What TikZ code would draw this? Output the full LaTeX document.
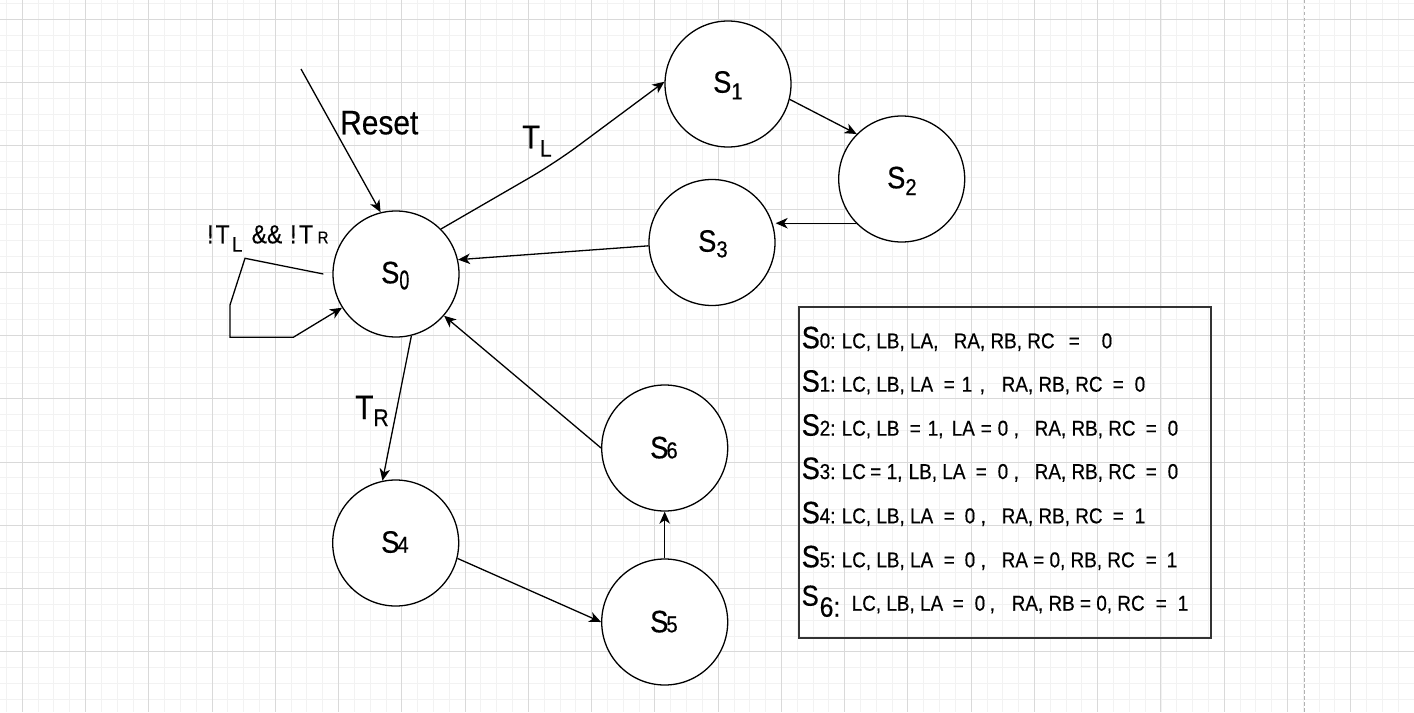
\documentclass[tikz,border=0pt]{standalone}
\usepackage{fontspec}
\setmainfont{Liberation Sans}[FakeStretch=0.88,FakeBold=0.4]
\usepackage{graphicx}
\usetikzlibrary{arrows.meta,calc}
\newcommand\fs[1]{\fontsize{#1bp}{#1bp}\selectfont}
\newcommand\seg[2]{\rlap{\hspace*{#1bp}#2}}
\begin{document}
\begin{tikzpicture}[x=1bp,y=-1bp,
  minorline/.style={draw=black!5,line width=1bp},
  majorline/.style={draw=black!15,line width=1bp},
  state/.style={draw,circle,fill=white,minimum size=126bp,inner sep=0pt,line width=1.3bp},
  arr/.style={line width=1.3bp,-{Stealth[length=12bp,width=10.5bp,inset=3.5bp]}},
  lab/.style={inner sep=0pt,anchor=base west},
  row/.style={inner sep=0pt,anchor=base west,font=\fs{21.5}}]
\useasboundingbox (0,0) rectangle (1414,712);
\fill[white] (0,0) rectangle (1414,712);
% grid
\foreach \i in {0,...,89} \draw[minorline] ({6.5+\i*15.815},0) -- ({6.5+\i*15.815},712);
\foreach \i in {0,...,45} \draw[minorline] (0,{3.5+\i*15.815}) -- (1414,{3.5+\i*15.815});
\foreach \i in {0,...,22} \draw[majorline] ({22.3+\i*63.26},0) -- ({22.3+\i*63.26},712);
\foreach \i in {0,...,11} \draw[majorline] (0,{19.3+\i*63.26}) -- (1414,{19.3+\i*63.26});
\draw[black!30,line width=1.2bp,dash pattern=on 3.5bp off 2.5bp] (1304.5,0) -- (1304.5,712);

% states
\node[state] (s0) at (396,274) {};
\node[state] (s1) at (728,84) {};
\node[state] (s2) at (901.7,179) {};
\node[state] (s3) at (712,242.5) {};
\node[state] (s4) at (395.7,543) {};
\node[state] (s5) at (664.7,622) {};
\node[state] (s6) at (664.7,448) {};

% state labels
\node[lab] (l0) at (381,283.3) {\fs{31}S\raisebox{-6bp}{\fs{27}\scalebox{0.75}[1]{0}}};
\node[lab] (l1) at (713,92.7) {\fs{31}S\raisebox{-6.6bp}{\fs{23}1}};
\node[lab] (l2) at (887,188.3) {\fs{31}S\raisebox{-6.7bp}{\fs{23}2}};
\node[lab] (l3) at (698,251.7) {\fs{31}S\raisebox{-5.6bp}{\fs{23}3}};
\node[lab] (l4) at (381,552.7) {\fs{31}S\kern-2bp\fs{23}4};
\node[lab] (l5) at (650,632.3) {\fs{31}S\kern-2bp\fs{23}5};
\node[lab] (l6) at (650,458.3) {\fs{31}S\kern-2bp\fs{23}6};

% connectors
\coordinate (rst) at (301,69);
\coordinate (w1) at (555,163);
\draw[arr] (rst) -- (s0.104);
\draw[arr,rounded corners=28bp] (s0.45.6) -- (w1) -- (s1.178);
\draw[arr] (s1.-14.6) -- (s2.135);
\draw[arr] (s2.224) -- (s2.224 -| s3.east);
\draw[arr] (s3.183.8) -- (s0.13.2);
\draw[arr] (s0.-76.8) -- (s4.102.4);
\draw[arr] (s4.-14) -- (s5.180);
\draw[arr] (s5.90) -- (s6.270);
\draw[arr] (s6.180) -- (s0.-41.2);
\draw[arr] ([xshift=-9bp]s0.west) -- (245,258.3) -- (230,305) -- (230,337.3) -- (293.3,337.3) -- (s0.212.3);

% edge labels
\node[lab] (reset) at (340,134.3) {\fs{34}Reset};
\node[lab] (tl) at (522,148.3) {\fs{33}T\raisebox{-8.4bp}{\fs{24}L}};
\node[lab] (tr) at (355,419) {\fs{34}T\raisebox{-7bp}{\fs{24}R}};
\node[lab,font=\fs{26}] (loop) at (206,243.3) {\seg{0.5}{!}\seg{9}{T}\seg{25.5}{\raisebox{-8.4bp}{\fs{21}L}}\seg{45}{\&\&}\seg{83.5}{!}\seg{92.5}{T}\seg{111}{\fs{17}R}};

% table
\node[draw=black!80,line width=2bp,minimum width=411.7bp,minimum height=331.6bp,inner sep=0pt,anchor=north west] (tab) at (798.3,305.7) {};
\node[row] (r0) at (801,348.3) {\seg{0}{\fs{31}S}\seg{18}{0:}\seg{40}{LC, LB, LA,}\seg{152}{RA, RB, RC}\seg{267}{=}\seg{300}{0}};
\node[row] (r1) at (801,391.7) {\seg{0}{\fs{31}S}\seg{18}{1:}\seg{40}{LC, LB, LA}\seg{142}{=}\seg{160}{1}\seg{178}{,}\seg{200}{RA, RB, RC}\seg{311}{=}\seg{333}{0}};
\node[row] (r2) at (801,435.7) {\seg{0}{\fs{31}S}\seg{18}{2:}\seg{40}{LC, LB}\seg{108}{=}\seg{126}{1,}\seg{150}{LA}\seg{179}{=}\seg{196}{0}\seg{212}{,}\seg{233}{RA, RB, RC}\seg{344}{=}\seg{366}{0}};
\node[row] (r3) at (801,479) {\seg{0}{\fs{31}S}\seg{18}{3:}\seg{40}{LC}\seg{68.5}{=}\seg{85}{1,}\seg{107}{LB, LA}\seg{174}{=}\seg{196}{0}\seg{212}{,}\seg{233}{RA, RB, RC}\seg{344}{=}\seg{366}{0}};
\node[row] (r4) at (801,523.3) {\seg{0}{\fs{31}S}\seg{18}{4:}\seg{40}{LC, LB, LA}\seg{142}{=}\seg{163}{0}\seg{179}{,}\seg{200}{RA, RB, RC}\seg{311}{=}\seg{333}{1}};
\node[row] (r5) at (801,567.3) {\seg{0}{\fs{31}S}\seg{18}{5:}\seg{40}{LC, LB, LA}\seg{142}{=}\seg{163}{0}\seg{179}{,}\seg{200}{RA = 0, RB, RC}\seg{344}{=}\seg{365}{1}};
\node[row] (r6) at (801,610.7) {\seg{0}{\raisebox{5bp}{\fs{29}S}}\seg{18}{\raisebox{-6bp}{\fs{28}6:}}\seg{50}{LC, LB, LA}\seg{151}{=}\seg{173}{0}\seg{188}{,}\seg{210}{RA, RB = 0, RC}\seg{354}{=}\seg{376}{1}};
\end{tikzpicture}
\end{document}
